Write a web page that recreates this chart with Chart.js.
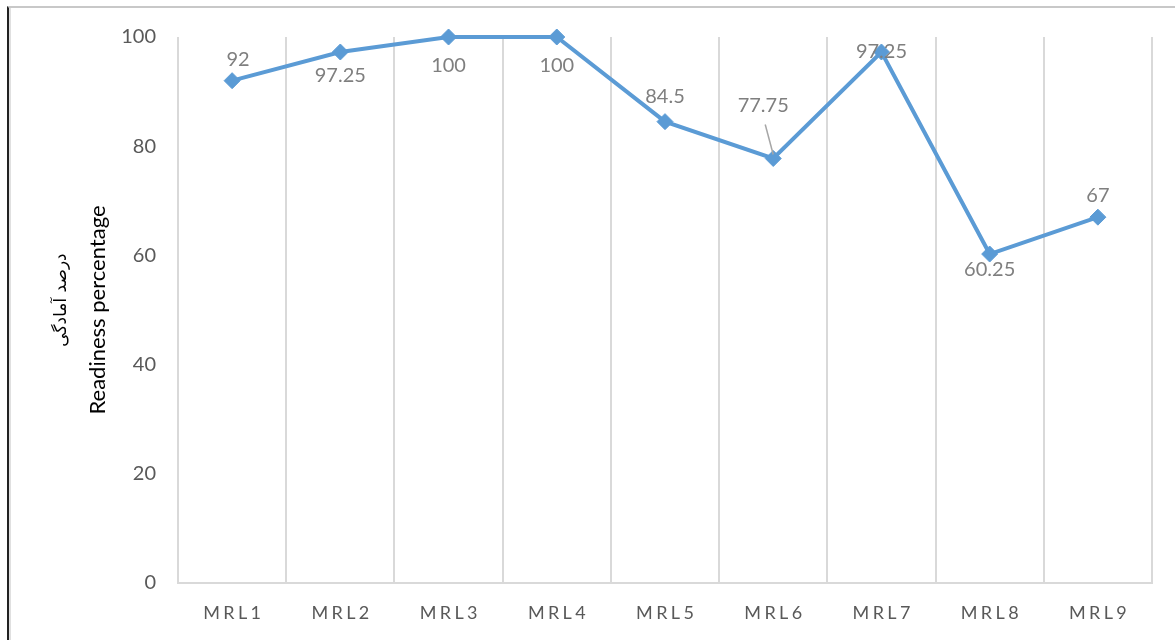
<!DOCTYPE html>
<html>
<head>
<meta charset="utf-8">
<script src="https://cdn.jsdelivr.net/npm/chart.js@4.4.1/dist/chart.umd.min.js"></script>
<style>
  html,body{margin:0;padding:0;background:#fff;}
  #frame{position:absolute;left:0;top:0;width:1175px;height:640px;}
  #edge{position:absolute;left:7px;top:6px;width:1168px;height:634px;border-left:2px solid #222;border-top:2px solid #c8c8c8;box-sizing:border-box;}
  #edge2{position:absolute;left:9px;top:8px;width:2px;height:632px;background:#e0e0e0;}
  canvas{position:absolute;left:0;top:0;}
</style>
</head>
<body>
<div id="frame">
  <div id="edge"></div>
  <div id="edge2"></div>
  <canvas id="c" width="1175" height="640"></canvas>
</div>
<script>
const categories = ['MRL1','MRL2','MRL3','MRL4','MRL5','MRL6','MRL7','MRL8','MRL9'];
const readiness = [92, 97.25, 100, 100, 84.5, 77.75, 97.25, 60.25, 67];
const labelTexts = ['92','97.25','100','100','84.5','77.75','97.25','60.25','67'];
const yTicks = [0, 20, 40, 60, 80, 100];
const yTitleFa = 'درصد آمادگی';
const yTitleEn = 'Readiness percentage';
// label placement per point (style)
const labelPlace = [
  {dx:6, dy:-21}, {dx:0, dy:24}, {dx:0, dy:29}, {dx:0, dy:29}, {dx:0, dy:-25},
  {dx:-10, dy:-53, leader:true}, {dx:0, dy:0}, {dx:0, dy:16}, {dx:0, dy:-22}
];

const dataLabels = {
  id:'dataLabels',
  afterDatasetsDraw(chart){
    const ctx = chart.ctx;
    const meta = chart.getDatasetMeta(0);
    ctx.save();
    ctx.font = '20px Lato, "Open Sans", sans-serif';
    ctx.fillStyle = '#7f7f7f';
    ctx.textAlign = 'center';
    ctx.textBaseline = 'middle';
    meta.data.forEach((pt, i) => {
      const p = labelPlace[i];
      const x = pt.x + p.dx, y = pt.y + p.dy;
      if (p.leader) {
        ctx.strokeStyle = '#a6a6a6';
        ctx.lineWidth = 1.5;
        ctx.beginPath();
        ctx.moveTo(x + 2, y + 19);
        ctx.lineTo(pt.x, pt.y - 4);
        ctx.stroke();
      }
      ctx.fillText(labelTexts[i], x, y);
    });
    ctx.restore();
  }
};

const faTitle = {
  id:'faTitle',
  afterDraw(chart){
    const ctx = chart.ctx;
    const area = chart.chartArea;
    ctx.save();
    ctx.translate(62, (area.top + area.bottom) / 2 - 10);
    ctx.rotate(-Math.PI/2);
    ctx.font = '17px "DejaVu Sans", sans-serif';
    ctx.fillStyle = '#000';
    ctx.textAlign = 'center';
    ctx.textBaseline = 'middle';
    ctx.direction = 'rtl';
    ctx.fillText(yTitleFa, 0, 0);
    ctx.restore();
  }
};

new Chart(document.getElementById('c'), {
  type:'line',
  data:{
    labels: categories,
    datasets:[{
      data: readiness,
      borderColor:'#5b9bd5',
      backgroundColor:'#5b9bd5',
      borderWidth:4,
      pointStyle:'rectRot',
      pointRadius:8,
      pointHoverRadius:8,
      pointBorderWidth:1,
      tension:0,
      clip:false
    }]
  },
  options:{
    responsive:false,
    animation:false,
    events:[],
    layout:{padding:{left:0, right:23, top:37, bottom:0}},
    plugins:{legend:{display:false}, tooltip:{enabled:false}},
    scales:{
      x:{
        offset:true,
        grid:{offset:true, color:'#d9d9d9', lineWidth:2, drawTicks:false},
        border:{display:true, color:'#d9d9d9', width:2},
        ticks:{
          padding:19,
          color:'#595959',
          font:{family:'Lato, "Open Sans", sans-serif', size:18},
          callback:function(v){ return categories[v].split('').join('\u2009\u200A'); }
        },
        afterFit(s){ s.height = 57; }
      },
      y:{
        min:0, max:100,
        afterBuildTicks(s){ s.ticks = yTicks.map(v => ({value:v})); },
        grid:{display:false, drawTicks:false},
        border:{display:false},
        ticks:{padding:22, color:'#595959', font:{family:'Lato, "Open Sans", sans-serif', size:20}},
        title:{display:true, text:yTitleEn, color:'#000', font:{family:'Lato, "Open Sans", sans-serif', size:22}, padding:{top:85,bottom:0}},
        afterFit(s){ s.width = 178; }
      }
    }
  },
  plugins:[dataLabels, faTitle]
});
</script>
</body>
</html>
